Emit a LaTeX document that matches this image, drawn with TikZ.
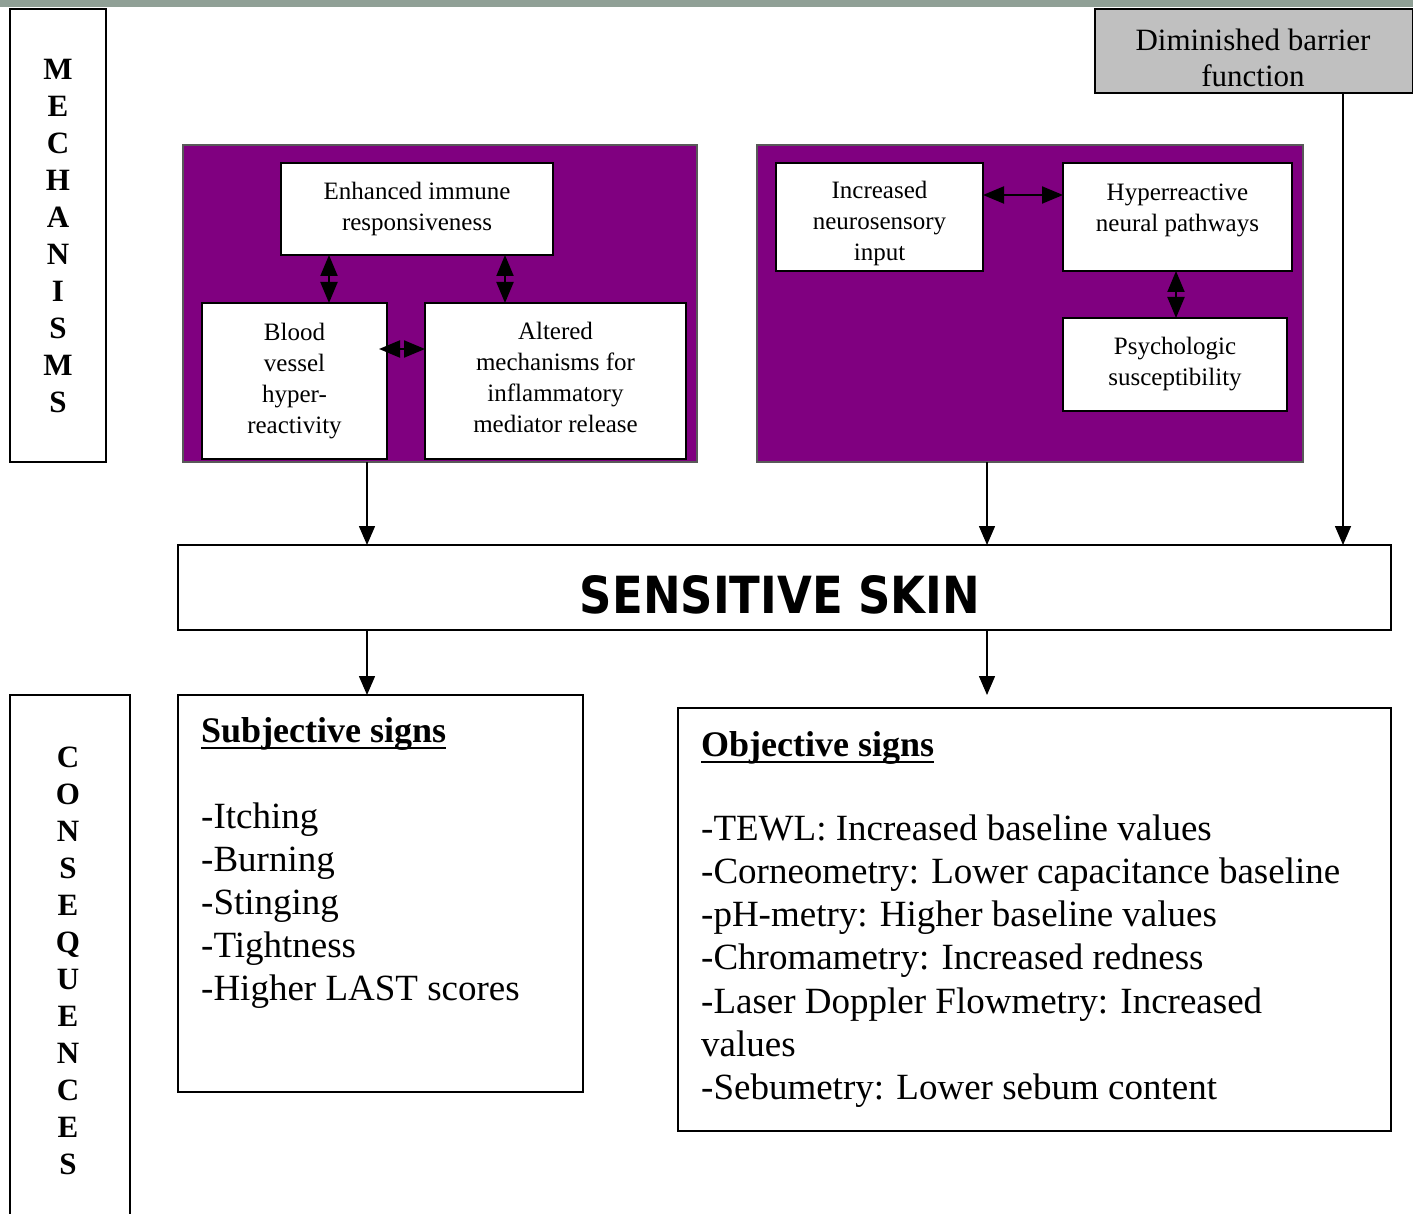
\documentclass[tikz,border=0pt]{standalone}
\usepackage{fontspec}
\setmainfont{Liberation Serif}
\newfontfamily\skinfont{DejaVu Sans}
\usetikzlibrary{arrows.meta}
\definecolor{barcol}{RGB}{144,160,150}
\definecolor{purp}{RGB}{128,0,128}
\definecolor{dimfill}{RGB}{192,192,192}
\begin{document}
\begin{tikzpicture}[x=1pt,y=-1pt,
  box/.style={draw=black, line width=2pt, fill=white, inner sep=0pt, outer sep=0pt, align=center},
  pbox/.style={draw=black!65, line width=2pt, fill=purp, inner sep=0pt, outer sep=0pt},
  small/.style={font=\fontsize{25}{31}\selectfont},
  big/.style={font=\fontsize{37}{44}\selectfont},
  sidelab/.style={font=\fontsize{31}{37}\selectfont\bfseries, align=center, inner sep=0pt},
  arr/.style={line width=1.5pt, -{Triangle[length=19pt,width=16pt]}},
  darr/.style={line width=2pt, {Triangle[length=21pt,width=17pt]}-{Triangle[length=21pt,width=17pt]}},
  txt/.style={inner sep=0pt, anchor=base west}
]
\useasboundingbox (0,0) rectangle (1413,1214);
\fill[white] (0,0) rectangle (1413,1214);
\fill[barcol] (0,0) rectangle (1413,7);

% side labels
\node[box, minimum width=96pt, minimum height=453pt] (mech) at (58,235.5) {};
\node[sidelab] (mechtxt) at (58,236) {M\\E\\C\\H\\A\\N\\I\\S\\M\\S};
\node[box, minimum width=120pt, minimum height=535pt] (cons) at (70,962.5) {};
\node[sidelab] (constxt) at (68,961) {C\\O\\N\\S\\E\\Q\\U\\E\\N\\C\\E\\S};

% diminished barrier
\node[box, fill=dimfill, minimum width=318pt, minimum height=84pt] (dim) at (1254,51) {};
\node[inner sep=0pt, align=center, font=\fontsize{31}{36}\selectfont] (dimtxt) at (1253,58) {Diminished barrier\\function};

% left purple group
\node[pbox, minimum width=514pt, minimum height=317pt] (leftP) at (440,303.5) {};
\node[box, small, minimum width=272pt, minimum height=92pt] (enh) at (417,209) {Enhanced immune\\responsiveness};
\node[box, small, minimum width=185pt, minimum height=156pt] (blood) at (294.5,381) {Blood\\vessel\\hyper-\\reactivity};
\node[box, small, minimum width=261pt, minimum height=156pt] (alt) at (555.5,381) {Altered\\mechanisms for\\inflammatory\\mediator release\rule[-7pt]{0pt}{0pt}};

% right purple group
\node[pbox, minimum width=546pt, minimum height=317pt] (rightP) at (1030,303.5) {};
\node[box, small, minimum width=207pt, minimum height=108pt] (inc) at (879.5,217) {\rule{0pt}{31pt}Increased\\neurosensory\\input};
\node[box, small, minimum width=229pt, minimum height=108pt] (hyp) at (1177.5,217) {\rule{0pt}{29pt}Hyperreactive\\neural pathways\\\mbox{}};
\node[box, small, minimum width=224pt, minimum height=93pt] (psy) at (1175,364.5) {Psychologic\\susceptibility};

% sensitive skin
\node[box, minimum width=1213pt, minimum height=85pt] (skin) at (784.5,587.5) {};
\node[inner sep=0pt, anchor=base] (skintxt) at (780,613) {\resizebox{400pt}{38pt}{\skinfont\bfseries SENSITIVE SKIN}};

% consequence boxes
\node[box, minimum width=405pt, minimum height=397pt] (subj) at (380.5,893.5) {};
\node[box, minimum width=713pt, minimum height=423pt] (obj) at (1034.5,919.5) {};

\node[txt, font=\fontsize{36}{44}\selectfont\bfseries] (st) at (201,742) {Subjective signs};
\draw[line width=2pt] ([yshift=-6pt]st.base west) -- ([yshift=-6pt]st.base east);
\foreach \t [count=\i] in {-Itching,-Burning,-Stinging,-Tightness,-Higher LAST scores}
  \node[txt, big] (si\i) at (201,{828+43*(\i-1)}) {\t};

\node[txt, font=\fontsize{36}{44}\selectfont\bfseries] (ot) at (701,756) {Objective signs};
\draw[line width=2pt] ([yshift=-6pt]ot.base west) -- ([yshift=-6pt]ot.base east);
\foreach \t [count=\i] in {-TEWL:  Increased baseline values,-Corneometry: Lower capacitance baseline,-pH-metry: Higher  baseline  values,-Chromametry: Increased redness,-Laser Doppler Flowmetry: Increased,values,-Sebumetry: Lower sebum content}
  \node[txt, big] (oi\i) at (701,{840+43.3*(\i-1)}) {\t};

% column coordinates
\coordinate (c1) at (329,0);
\coordinate (c2) at (505,0);
\coordinate (r1) at (0,349);
\coordinate (r2) at (0,195);
\coordinate (c3) at (1176,0);
\coordinate (cl) at (367,0);
\coordinate (cr) at (987,0);
\coordinate (cd) at (1343,0);
\coordinate (objend) at (987,695);

% double arrows
\draw[darr] (c1 |- enh.south) -- (c1 |- blood.north);
\draw[darr] (c2 |- enh.south) -- (c2 |- alt.north);
\draw[darr] ([xshift=-8pt]blood.east |- r1) -- (alt.west |- r1);
\draw[darr] (inc.east |- r2) -- (hyp.west |- r2);
\draw[darr] (c3 |- hyp.south) -- (c3 |- psy.north);

% flow arrows
\draw[arr] (cl |- leftP.south) -- (cl |- skin.north);
\draw[arr] (cr |- rightP.south) -- (cr |- skin.north);
\draw[arr] (cd |- dim.south) -- (cd |- skin.north);
\draw[arr] (cl |- skin.south) -- (cl |- subj.north);
\draw[arr] (cr |- skin.south) -- (objend);
\end{tikzpicture}
\end{document}
